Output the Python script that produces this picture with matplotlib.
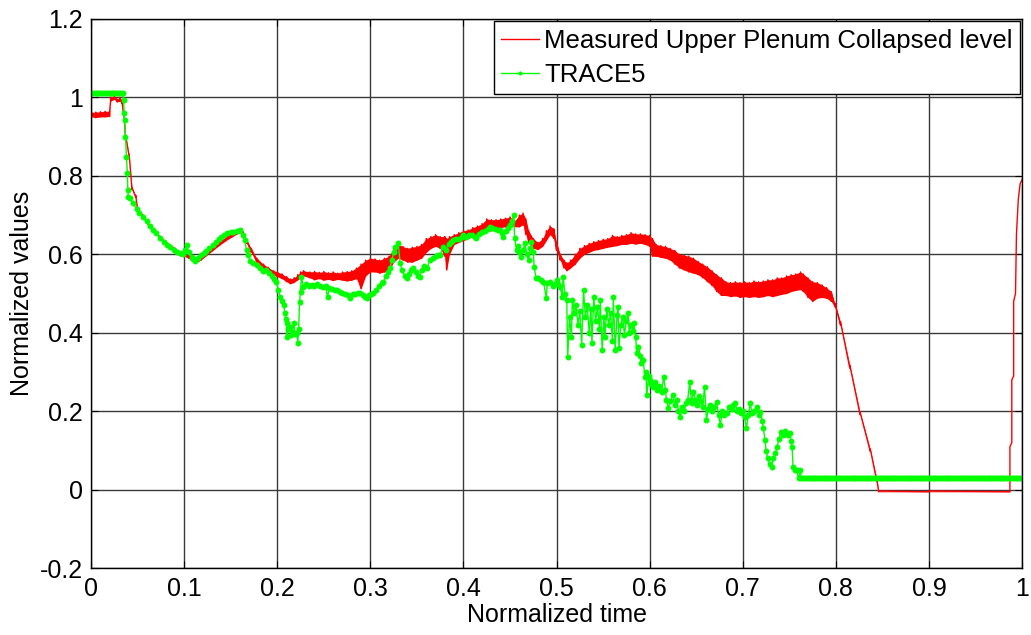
import numpy as np
import matplotlib
matplotlib.use("Agg")
from matplotlib import pyplot as plt
from matplotlib.ticker import FormatStrFormatter

plt.rcParams['font.family'] = ['Liberation Sans', 'DejaVu Sans']
plt.rcParams['axes.unicode_minus'] = False

# measured collapsed level: sample times with lower / upper edge of the noisy signal
red_x = [0.000, 0.005, 0.010, 0.015, 0.020, 0.021, 0.025, 0.028, 0.031, 0.033,
         0.035, 0.037, 0.041, 0.044, 0.048, 0.050, 0.056, 0.063, 0.070, 0.074,
         0.080, 0.085, 0.090, 0.096, 0.100, 0.105, 0.108, 0.112, 0.118, 0.124,
         0.131, 0.138, 0.145, 0.152, 0.158, 0.162, 0.167, 0.172, 0.178, 0.185,
         0.190, 0.196, 0.200, 0.205, 0.210, 0.214, 0.218, 0.222, 0.225, 0.228,
         0.235, 0.240, 0.245, 0.250, 0.255, 0.260, 0.265, 0.270, 0.275, 0.280,
         0.285, 0.290, 0.295, 0.300, 0.305, 0.310, 0.315, 0.320, 0.325, 0.330,
         0.335, 0.340, 0.345, 0.350, 0.355, 0.360, 0.365, 0.370, 0.375, 0.380,
         0.382, 0.385, 0.390, 0.395, 0.400, 0.405, 0.410, 0.415, 0.420, 0.425,
         0.430, 0.435, 0.440, 0.445, 0.450, 0.455, 0.460, 0.464, 0.467, 0.470,
         0.475, 0.480, 0.485, 0.489, 0.493, 0.497, 0.500, 0.504, 0.508, 0.511,
         0.515, 0.520, 0.525, 0.530, 0.535, 0.540, 0.545, 0.550, 0.555, 0.560,
         0.565, 0.570, 0.575, 0.580, 0.585, 0.590, 0.595, 0.600, 0.603, 0.607,
         0.612, 0.617, 0.622, 0.627, 0.632, 0.637, 0.642, 0.647, 0.652, 0.657,
         0.662, 0.667, 0.672, 0.677, 0.682, 0.687, 0.692, 0.697, 0.702, 0.707,
         0.712, 0.717, 0.722, 0.727, 0.732, 0.737, 0.742, 0.747, 0.752, 0.757,
         0.762, 0.765, 0.770, 0.775, 0.780, 0.785, 0.790, 0.795, 0.799, 0.805,
         0.815, 0.826, 0.837, 0.844, 0.846, 0.900, 0.987, 0.987, 0.989, 0.989,
         0.991, 0.991, 0.993, 0.994, 0.996, 0.998, 1.000]
red_lo = [0.950, 0.948, 0.950, 0.950, 0.951, 0.990, 0.995, 0.988, 0.990, 0.985,
          0.955, 0.900, 0.848, 0.765, 0.745, 0.712, 0.694, 0.668, 0.652, 0.640,
          0.628, 0.617, 0.608, 0.596, 0.595, 0.590, 0.584, 0.578, 0.585, 0.597,
          0.610, 0.623, 0.635, 0.645, 0.653, 0.655, 0.628, 0.605, 0.580, 0.565,
          0.555, 0.547, 0.543, 0.538, 0.530, 0.525, 0.528, 0.535, 0.540, 0.545,
          0.540, 0.535, 0.538, 0.534, 0.536, 0.533, 0.536, 0.534, 0.532, 0.534,
          0.538, 0.512, 0.545, 0.555, 0.555, 0.552, 0.555, 0.558, 0.580, 0.590,
          0.585, 0.580, 0.580, 0.585, 0.590, 0.605, 0.615, 0.620, 0.615, 0.595,
          0.560, 0.600, 0.625, 0.630, 0.635, 0.640, 0.645, 0.648, 0.652, 0.658,
          0.660, 0.665, 0.668, 0.670, 0.675, 0.670, 0.670, 0.675, 0.650, 0.630,
          0.615, 0.612, 0.620, 0.635, 0.650, 0.640, 0.610, 0.585, 0.565, 0.558,
          0.565, 0.575, 0.590, 0.600, 0.605, 0.610, 0.612, 0.615, 0.618, 0.620,
          0.622, 0.625, 0.625, 0.628, 0.626, 0.628, 0.625, 0.620, 0.595, 0.595,
          0.592, 0.590, 0.585, 0.575, 0.565, 0.560, 0.555, 0.552, 0.548, 0.540,
          0.530, 0.520, 0.505, 0.495, 0.495, 0.492, 0.494, 0.490, 0.492, 0.490,
          0.492, 0.490, 0.492, 0.495, 0.492, 0.495, 0.498, 0.500, 0.505, 0.508,
          0.510, 0.505, 0.490, 0.480, 0.488, 0.490, 0.488, 0.480, 0.466, 0.420,
          0.310, 0.192, 0.098, 0.022, -0.005, -0.005, -0.005, 0.110, 0.120, 0.280,
          0.290, 0.480, 0.500, 0.650, 0.740, 0.780, 0.790]
red_hi = [0.962, 0.962, 0.963, 0.964, 0.965, 1.000, 1.003, 0.995, 1.000, 0.992,
          0.965, 0.905, 0.852, 0.770, 0.750, 0.718, 0.700, 0.674, 0.658, 0.646,
          0.634, 0.624, 0.616, 0.604, 0.603, 0.598, 0.592, 0.586, 0.594, 0.606,
          0.620, 0.633, 0.645, 0.655, 0.663, 0.665, 0.638, 0.615, 0.590, 0.575,
          0.567, 0.558, 0.555, 0.550, 0.543, 0.537, 0.540, 0.548, 0.555, 0.558,
          0.555, 0.556, 0.554, 0.556, 0.553, 0.555, 0.552, 0.555, 0.556, 0.558,
          0.565, 0.575, 0.585, 0.590, 0.588, 0.585, 0.590, 0.595, 0.615, 0.625,
          0.620, 0.615, 0.618, 0.620, 0.625, 0.640, 0.645, 0.650, 0.645, 0.645,
          0.640, 0.645, 0.650, 0.655, 0.660, 0.662, 0.668, 0.672, 0.678, 0.690,
          0.688, 0.688, 0.690, 0.692, 0.695, 0.685, 0.700, 0.705, 0.690, 0.660,
          0.640, 0.630, 0.640, 0.660, 0.672, 0.665, 0.630, 0.600, 0.585, 0.578,
          0.585, 0.600, 0.615, 0.622, 0.628, 0.632, 0.635, 0.638, 0.640, 0.648,
          0.645, 0.648, 0.650, 0.655, 0.652, 0.652, 0.650, 0.648, 0.640, 0.625,
          0.622, 0.620, 0.615, 0.610, 0.600, 0.598, 0.595, 0.590, 0.582, 0.575,
          0.568, 0.558, 0.548, 0.540, 0.530, 0.528, 0.530, 0.528, 0.530, 0.528,
          0.532, 0.530, 0.532, 0.535, 0.535, 0.540, 0.540, 0.545, 0.548, 0.550,
          0.555, 0.550, 0.540, 0.530, 0.528, 0.522, 0.515, 0.505, 0.475, 0.428,
          0.318, 0.198, 0.104, 0.028, -0.003, -0.003, -0.003, 0.110, 0.120, 0.280,
          0.290, 0.480, 0.500, 0.650, 0.740, 0.780, 0.790]

# TRACE5 prediction
trace_head_level = 1.01      # flat level before the first drop
trace_tail_level = 0.03      # flat level after the last drop
trace_head_end = 0.034
trace_tail_start = 0.763
trace_step = 0.002           # output time step of the flat parts

green_x = [0.035, 0.0355, 0.036, 0.037, 0.038, 0.039, 0.0395, 0.040, 0.042, 0.045,
           0.049, 0.052, 0.056, 0.060, 0.063, 0.067, 0.070, 0.074, 0.078, 0.082,
           0.085, 0.089, 0.092, 0.096, 0.099, 0.101, 0.103, 0.105, 0.108, 0.110,
           0.112, 0.115, 0.118, 0.121, 0.124, 0.127, 0.131, 0.134, 0.137, 0.140,
           0.143, 0.146, 0.150, 0.153, 0.157, 0.160, 0.163, 0.165, 0.167, 0.169,
           0.171, 0.174, 0.178, 0.182, 0.185, 0.188, 0.191, 0.194, 0.197, 0.199,
           0.201, 0.203, 0.205, 0.207, 0.208, 0.209, 0.210, 0.210, 0.212, 0.214,
           0.215, 0.216, 0.218, 0.219, 0.221, 0.222, 0.223, 0.224, 0.225, 0.226,
           0.228, 0.231, 0.234, 0.237, 0.240, 0.243, 0.246, 0.249, 0.252, 0.254,
           0.256, 0.259, 0.262, 0.264, 0.267, 0.270, 0.273, 0.276, 0.278, 0.281,
           0.284, 0.287, 0.289, 0.292, 0.294, 0.296, 0.299, 0.301, 0.303, 0.306,
           0.309, 0.312, 0.314, 0.317, 0.319, 0.321, 0.323, 0.325, 0.327, 0.330,
           0.332, 0.334, 0.337, 0.339, 0.342, 0.344, 0.346, 0.349, 0.351, 0.353,
           0.355, 0.358, 0.361, 0.364, 0.367, 0.370, 0.373, 0.375, 0.378, 0.381,
           0.384, 0.387, 0.389, 0.392, 0.395, 0.398, 0.400, 0.403, 0.406, 0.409,
           0.412, 0.414, 0.417, 0.420, 0.423, 0.426, 0.428, 0.431, 0.434, 0.437,
           0.439, 0.441, 0.443, 0.446, 0.448, 0.450, 0.452, 0.454, 0.455, 0.457,
           0.459, 0.460, 0.462, 0.464, 0.466, 0.468, 0.470, 0.472, 0.473, 0.475,
           0.476, 0.478, 0.480, 0.483, 0.486, 0.489, 0.490, 0.493, 0.496, 0.498,
           0.500, 0.502, 0.504, 0.506, 0.507, 0.509, 0.511, 0.512, 0.514, 0.516,
           0.517, 0.519, 0.521, 0.523, 0.525, 0.527, 0.529, 0.531, 0.533, 0.535,
           0.537, 0.538, 0.540, 0.542, 0.544, 0.546, 0.547, 0.549, 0.551, 0.552,
           0.554, 0.556, 0.558, 0.560, 0.561, 0.563, 0.565, 0.566, 0.567, 0.569,
           0.571, 0.573, 0.575, 0.577, 0.578, 0.580, 0.582, 0.583, 0.585, 0.586,
           0.588, 0.590, 0.591, 0.593, 0.595, 0.596, 0.597, 0.599, 0.600, 0.602,
           0.604, 0.606, 0.608, 0.610, 0.613, 0.615, 0.617, 0.618, 0.620, 0.622,
           0.625, 0.627, 0.629, 0.631, 0.633, 0.635, 0.637, 0.639, 0.641, 0.643,
           0.645, 0.647, 0.649, 0.651, 0.653, 0.655, 0.657, 0.659, 0.661, 0.663,
           0.665, 0.667, 0.669, 0.672, 0.674, 0.676, 0.678, 0.680, 0.683, 0.685,
           0.688, 0.690, 0.692, 0.694, 0.696, 0.698, 0.700, 0.702, 0.704, 0.706,
           0.708, 0.710, 0.712, 0.715, 0.717, 0.719, 0.721, 0.722, 0.724, 0.725,
           0.727, 0.729, 0.731, 0.733, 0.735, 0.737, 0.739, 0.741, 0.743, 0.745,
           0.747, 0.749, 0.751, 0.752, 0.753, 0.754, 0.756, 0.758, 0.760, 0.762]
green_y = [0.993, 0.960, 0.942, 0.900, 0.849, 0.806, 0.764, 0.747, 0.743, 0.730,
           0.715, 0.705, 0.696, 0.685, 0.672, 0.662, 0.655, 0.642, 0.632, 0.624,
           0.618, 0.612, 0.607, 0.602, 0.600, 0.612, 0.624, 0.605, 0.592, 0.588,
           0.582, 0.590, 0.598, 0.604, 0.608, 0.615, 0.624, 0.632, 0.640, 0.645,
           0.650, 0.653, 0.656, 0.658, 0.660, 0.663, 0.650, 0.636, 0.612, 0.598,
           0.583, 0.577, 0.572, 0.565, 0.558, 0.560, 0.552, 0.545, 0.538, 0.530,
           0.510, 0.492, 0.480, 0.471, 0.450, 0.435, 0.424, 0.390, 0.410, 0.416,
           0.395, 0.403, 0.424, 0.398, 0.399, 0.373, 0.410, 0.479, 0.505, 0.543,
           0.517, 0.525, 0.520, 0.522, 0.518, 0.525, 0.520, 0.516, 0.518, 0.490,
           0.515, 0.512, 0.510, 0.508, 0.505, 0.502, 0.500, 0.495, 0.488, 0.498,
           0.500, 0.502, 0.501, 0.495, 0.490, 0.488, 0.495, 0.500, 0.502, 0.510,
           0.520, 0.526, 0.530, 0.545, 0.555, 0.564, 0.585, 0.605, 0.619, 0.628,
           0.577, 0.560, 0.545, 0.539, 0.550, 0.560, 0.564, 0.555, 0.545, 0.543,
           0.560, 0.570, 0.564, 0.585, 0.590, 0.595, 0.598, 0.598, 0.619, 0.612,
           0.625, 0.630, 0.636, 0.638, 0.640, 0.645, 0.649, 0.645, 0.650, 0.648,
           0.645, 0.641, 0.652, 0.658, 0.660, 0.665, 0.670, 0.668, 0.665, 0.662,
           0.662, 0.655, 0.645, 0.660, 0.668, 0.675, 0.685, 0.700, 0.641, 0.611,
           0.620, 0.605, 0.594, 0.610, 0.628, 0.600, 0.585, 0.615, 0.632, 0.606,
           0.568, 0.539, 0.540, 0.535, 0.530, 0.488, 0.526, 0.530, 0.520, 0.525,
           0.535, 0.525, 0.517, 0.490, 0.543, 0.500, 0.484, 0.339, 0.440, 0.390,
           0.484, 0.450, 0.470, 0.420, 0.455, 0.369, 0.509, 0.440, 0.470, 0.400,
           0.460, 0.373, 0.492, 0.430, 0.465, 0.410, 0.484, 0.356, 0.440, 0.390,
           0.460, 0.420, 0.450, 0.380, 0.492, 0.356, 0.445, 0.466, 0.360, 0.420,
           0.440, 0.395, 0.430, 0.450, 0.400, 0.420, 0.405, 0.424, 0.390, 0.348,
           0.365, 0.340, 0.322, 0.331, 0.288, 0.300, 0.241, 0.290, 0.279, 0.270,
           0.263, 0.275, 0.255, 0.265, 0.250, 0.288, 0.255, 0.230, 0.208, 0.225,
           0.241, 0.215, 0.230, 0.200, 0.186, 0.210, 0.200, 0.220, 0.230, 0.275,
           0.220, 0.250, 0.230, 0.215, 0.240, 0.225, 0.210, 0.263, 0.178, 0.205,
           0.215, 0.200, 0.210, 0.224, 0.190, 0.165, 0.200, 0.190, 0.195, 0.210,
           0.205, 0.215, 0.220, 0.200, 0.205, 0.195, 0.200, 0.185, 0.157, 0.190,
           0.220, 0.195, 0.200, 0.212, 0.190, 0.199, 0.175, 0.157, 0.127, 0.100,
           0.080, 0.065, 0.059, 0.080, 0.093, 0.110, 0.130, 0.148, 0.140, 0.150,
           0.145, 0.140, 0.144, 0.125, 0.110, 0.059, 0.050, 0.050, 0.029, 0.050]

head_x = np.arange(0.0, trace_head_end + 1e-9, trace_step)
tail_x = np.arange(trace_tail_start, 1.0 + 1e-9, trace_step)
trace_x = np.concatenate([head_x, green_x, tail_x])
trace_y = np.concatenate([np.full(head_x.size, trace_head_level), green_y,
                          np.full(tail_x.size, trace_tail_level)])

# the measured signal swings between its two edges at every sample
meas_x = np.repeat(red_x, 2)
meas_y = np.column_stack([red_lo, red_hi]).ravel()

fig = plt.figure(figsize=(10.31, 6.35), dpi=100)
ax = fig.add_axes([0.0883, 0.105, 0.9030, 0.8655])

ax.fill_between(red_x, red_lo, red_hi, color="#ff0000", linewidth=0)
ax.plot(meas_x, meas_y, color="#ff0000", linewidth=1.0,
        label="Measured Upper Plenum Collapsed level")
ax.plot(trace_x, trace_y, color="#00ff00", linewidth=1.0, marker=".",
        markersize=6.5, label="TRACE5")

ax.set_xlim(0, 1)
ax.set_ylim(-0.2, 1.2)
ax.set_xticks(np.arange(0, 1.01, 0.1))
ax.set_yticks(np.arange(-0.2, 1.21, 0.2))
ax.xaxis.set_major_formatter(FormatStrFormatter("%g"))
ax.yaxis.set_major_formatter(FormatStrFormatter("%g"))
ax.tick_params(direction="in", length=5, top=True, right=True,
               labelsize=18, pad=6, color="black")
ax.grid(True, color="#3a3a3a", linewidth=1.0)
ax.set_axisbelow(True)
for s in ax.spines.values():
    s.set_color("black")
    s.set_linewidth(1.0)

ax.set_xlabel("Normalized time", fontsize=18, labelpad=2)
ax.set_ylabel("Normalized values", fontsize=18, labelpad=4)

leg = ax.legend(loc="upper right", bbox_to_anchor=(0.998, 0.995),
                borderaxespad=0, fontsize=18.5, fancybox=False, framealpha=1,
                edgecolor="black", handlelength=1.5, handletextpad=0.2,
                labelspacing=0.4, borderpad=0.28, markerscale=0.6)
leg.get_frame().set_linewidth(1.0)

fig.savefig("out.png", dpi=100)
